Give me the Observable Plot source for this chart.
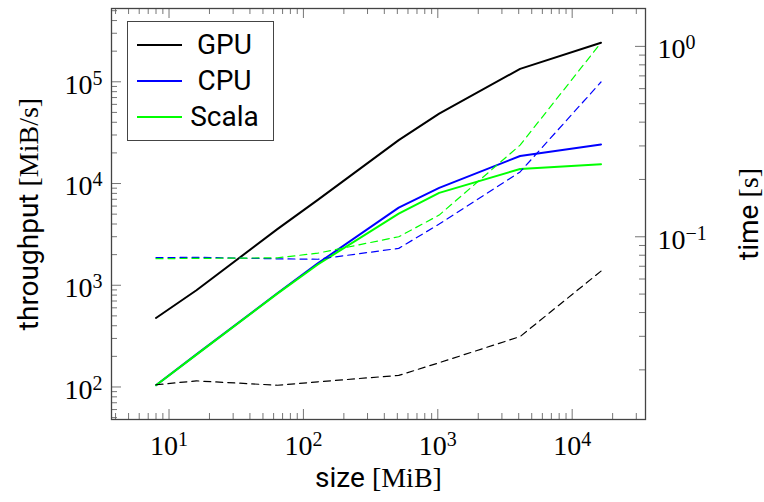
<!DOCTYPE html>
<html>
<head>
<meta charset="utf-8">
<script src="https://cdn.jsdelivr.net/npm/d3@7"></script>
<script src="https://cdn.jsdelivr.net/npm/@observablehq/plot@0.6"></script>
<style>
  html, body { margin: 0; padding: 0; background: #fff; }
  #wrap { position: relative; width: 764px; height: 502px; }
  #legend { position: absolute; left: 127px; top: 21px; width: 147px; height: 120px;
            border: 1.3px solid #444; background: #fff; box-sizing: border-box;
            font-family: Roboto, sans-serif; font-size: 28px; color: #000; }
  .lrow { position: absolute; left: 0; width: 100%; height: 36px; }
  .lsw { position: absolute; left: 9px; width: 45px; top: 17px; height: 0; border-top: 2px solid #000; }
  .ltx { position: absolute; left: 54px; width: 85px; top: 0; height: 36px; line-height: 36px; text-align: center; }
</style>
</head>
<body>
<div id="wrap"></div>
<script>
// ---- data ----
const sizes = [8, 16, 64, 128, 512, 1024, 4096, 16384];           // MiB
const seriesNames = ["GPU", "CPU", "Scala"];
const seriesColors = ["#000000", "#0000ff", "#00ff00"];
const gpuThroughput   = [477, 893, 3560, 6900, 26700, 48700, 134000, 242000];   // MiB/s
const cpuThroughput   = [104, 209, 834, 1640, 5800, 9060, 18650, 24200];
const scalaThroughput = [104, 208, 828, 1600, 5070, 8090, 13900, 15500];
const gpuTime   = [0.0167, 0.0175, 0.0166, 0.0173, 0.0187, 0.0218, 0.0299, 0.0660]; // s
const cpuTime   = [0.0777, 0.0780, 0.0766, 0.0762, 0.0869, 0.1166, 0.219, 0.650];
const scalaTime = [0.0767, 0.0770, 0.0775, 0.0820, 0.1000, 0.1300, 0.303, 1.045];
const xTitle = "size [MiB]";
const yTitle = "throughput [MiB/s]";
const tTitle = "time [s]";

const throughputs = [gpuThroughput, cpuThroughput, scalaThroughput];
const times = [gpuTime, cpuTime, scalaTime];

const tpRows = seriesNames.flatMap((s, k) => sizes.map((x, i) => ({series: s, size: x, value: throughputs[k][i]})));
const tRows  = seriesNames.flatMap((s, k) => sizes.map((x, i) => ({series: s, size: x, value: times[k][i]})));

// pgfplots-like 10% enlargement of log limits
function logEnlarge(vals, f = 0.1) {
  const lo = Math.log10(d3.min(vals)), hi = Math.log10(d3.max(vals));
  const p = (hi - lo) * f;
  return [lo - p, hi + p];
}
const xL = logEnlarge(sizes);
const yL = logEnlarge(throughputs.flat());
const tL = logEnlarge(times.flat());
// map time (right axis) into the throughput (left) scale
const toLeft = t => 10 ** (yL[0] + (Math.log10(t) - tL[0]) * (yL[1] - yL[0]) / (tL[1] - tL[0]));

function logTicks([lo, hi]) {
  const major = [], minor = [];
  for (let e = Math.floor(lo); e <= Math.ceil(hi); e++) {
    for (let m = 1; m <= 9; m++) {
      const v = m * 10 ** e, l = Math.log10(v);
      if (l < lo - 1e-9 || l > hi + 1e-9) continue;
      (m === 1 ? major : minor).push(v);
    }
  }
  return {major, minor};
}
const xt = logTicks(xL), yt = logTicks(yL), tt = logTicks(tL);

const W = 764, H = 502, mL = 111, mR = 119, mT = 8, mB = 83;
const fw = W - mL - mR, fh = H - mT - mB;
const tickColor = "#666";
const fmt = v => "10^" + Math.round(Math.log10(v));
const serif = "Liberation Serif, Times New Roman, serif";

const chart = Plot.plot({
  width: W, height: H,
  marginLeft: mL, marginRight: mR, marginTop: mT, marginBottom: mB,
  x: {type: "log", domain: [10 ** xL[0], 10 ** xL[1]], axis: null},
  y: {type: "log", domain: [10 ** yL[0], 10 ** yL[1]], axis: null},
  style: {background: "white", color: "black", fontFamily: serif, fontSize: "28px"},
  marks: [
    // ticks (inward)
    Plot.tickX(xt.minor, {x: d => d, insetTop: fh - 6, stroke: tickColor, strokeWidth: 0.9}),
    Plot.tickX(xt.major, {x: d => d, insetTop: fh - 10, stroke: tickColor, strokeWidth: 0.9}),
    Plot.tickX(xt.minor, {x: d => d, insetBottom: fh - 6, stroke: tickColor, strokeWidth: 0.9}),
    Plot.tickX(xt.major, {x: d => d, insetBottom: fh - 10, stroke: tickColor, strokeWidth: 0.9}),
    Plot.tickY(yt.minor, {y: d => d, insetRight: fw - 6, stroke: tickColor, strokeWidth: 0.9}),
    Plot.tickY(yt.major, {y: d => d, insetRight: fw - 10, stroke: tickColor, strokeWidth: 0.9}),
    Plot.tickY(tt.minor, {y: d => toLeft(d), insetLeft: fw - 6, stroke: tickColor, strokeWidth: 0.9}),
    Plot.tickY(tt.major, {y: d => toLeft(d), insetLeft: fw - 10, stroke: tickColor, strokeWidth: 0.9}),
    // tick labels
    Plot.text(xt.major, {x: d => d, frameAnchor: "bottom", text: fmt, dy: 16, lineAnchor: "top", textAnchor: "middle", fontSize: 28, fontFamily: serif}),
    Plot.text(yt.major, {y: d => d, frameAnchor: "left", text: fmt, dx: -9, dy: 3, lineAnchor: "middle", textAnchor: "end", fontSize: 28, fontFamily: serif}),
    Plot.text(tt.major, {y: d => toLeft(d), frameAnchor: "right", text: fmt, dx: 12, dy: 3, lineAnchor: "middle", textAnchor: "start", fontSize: 28, fontFamily: serif}),
    // throughput (solid)
    Plot.line(tpRows, {x: "size", y: "value", z: "series", stroke: d => seriesColors[seriesNames.indexOf(d.series)], strokeWidth: 2}),
    // time (dashed, right axis)
    Plot.line(tRows, {x: "size", y: d => toLeft(d.value), z: "series", stroke: d => seriesColors[seriesNames.indexOf(d.series)], strokeWidth: 1.2, strokeDasharray: "7,5"}),
    Plot.frame({stroke: "#444", strokeWidth: 1.3}),
    // axis titles
    Plot.text([yTitle], {frameAnchor: "left", rotate: -90, dx: -82, fontSize: 28, textAnchor: "middle"}),
    Plot.text([tTitle], {frameAnchor: "right", rotate: -90, dx: 104, fontSize: 28, textAnchor: "middle"}),
    Plot.text([xTitle], {frameAnchor: "bottom", dy: 67, fontSize: 28, textAnchor: "middle"})
  ]
});

// Post-process text: superscripts for exponents, mixed fonts for titles
const NS = "http://www.w3.org/2000/svg";
chart.querySelectorAll("text").forEach(t => {
  const s = t.textContent;
  if (s.includes("^")) {
    const [base, ex] = s.split("^");
    t.textContent = "";
    const b = document.createElementNS(NS, "tspan");
    b.textContent = base;
    const e = document.createElementNS(NS, "tspan");
    e.textContent = ex.replace("-", "\u2212");
    e.setAttribute("font-size", "20");
    e.setAttribute("dy", "-9");
    t.appendChild(b); t.appendChild(e);
  } else if (s.includes(" [")) {
    const i = s.indexOf(" [");
    t.textContent = "";
    const a = document.createElementNS(NS, "tspan");
    a.textContent = s.slice(0, i);
    a.setAttribute("font-family", "Roboto, sans-serif");
    const b = document.createElementNS(NS, "tspan");
    b.textContent = s.slice(i);
    b.setAttribute("font-family", serif);
    t.appendChild(a); t.appendChild(b);
  }
});

const wrap = document.getElementById("wrap");
wrap.appendChild(chart);

// legend
const legend = d3.select(wrap).append("div").attr("id", "legend");
seriesNames.forEach((s, k) => {
  const row = legend.append("div").attr("class", "lrow").style("top", (5 + k * 36) + "px");
  row.append("div").attr("class", "lsw").style("border-top-color", seriesColors[k]);
  row.append("div").attr("class", "ltx").text(s);
});
</script>
</body>
</html>
